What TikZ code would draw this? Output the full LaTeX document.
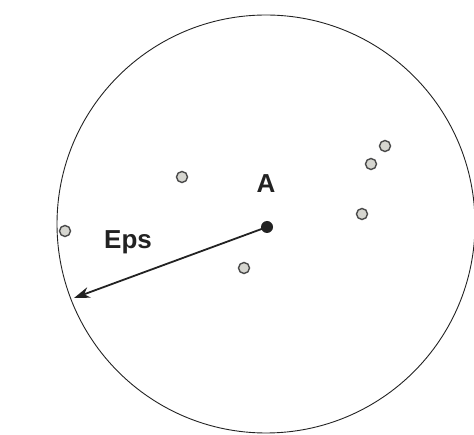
\documentclass[tikz,border=0pt]{standalone}
\usepackage{fontspec}
\setmainfont{Liberation Sans}
\usetikzlibrary{arrows.meta}
\definecolor{ptfill}{HTML}{D6D6D0}
\definecolor{ptline}{HTML}{4A4A4A}
\definecolor{inkc}{HTML}{222222}
\begin{document}
\begin{tikzpicture}[x=1pt,y=-1pt,
  pt/.style={circle,draw=ptline,fill=ptfill,line width=1.4pt,minimum size=11pt,inner sep=0pt},
  core/.style={circle,fill=inkc,minimum size=12pt,inner sep=0pt},
  lbl/.style={font=\fontsize{26}{30}\selectfont\bfseries,text=inkc,inner sep=0pt},
  arr/.style={-{Stealth[length=16pt,width=11pt]},line width=1.8pt,draw=inkc}]
\useasboundingbox (0,0) rectangle (474,435);
\node[circle,draw=inkc,line width=0.9pt,minimum size=418pt,inner sep=0pt] (eps) at (266,224) {};
\node[core] (A) at (267,227) {};
\node[lbl] (Alabel) at (266,184) {A};
\node[lbl] (Epslabel) at (128,242) {Eps};
\coordinate (tip) at (74,298);
\draw[arr] (A.center) -- (tip);
\node[pt] (p1) at (182,177) {};
\node[pt] (p2) at (65,231) {};
\node[pt] (p3) at (244,268) {};
\node[pt] (p4) at (362,214) {};
\node[pt] (p5) at (371,164) {};
\node[pt] (p6) at (385,146) {};
\end{tikzpicture}
\end{document}
